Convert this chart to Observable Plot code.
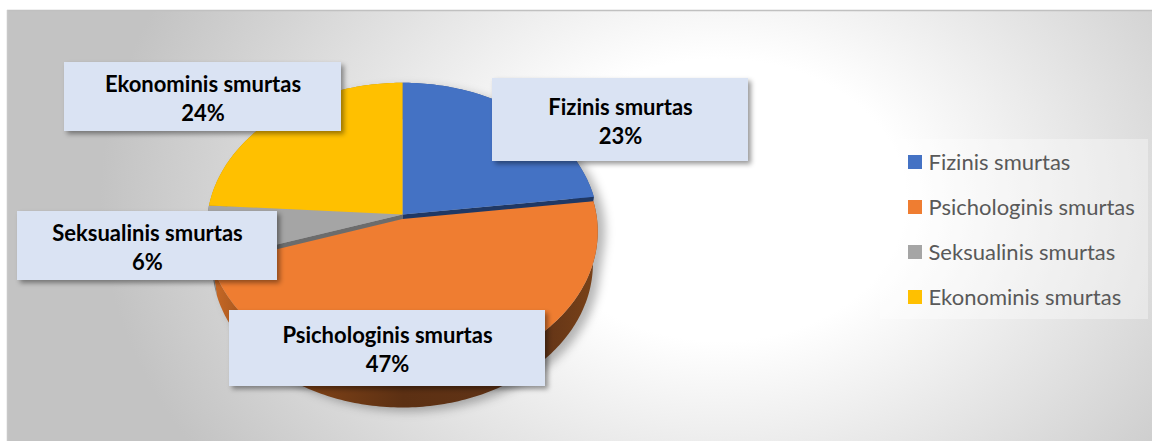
<!DOCTYPE html>
<html><head><meta charset="utf-8">
<script src="https://cdn.jsdelivr.net/npm/d3@7"></script>
<script src="https://cdn.jsdelivr.net/npm/@observablehq/plot@0.6"></script>
<style>body{margin:0;background:#fff;} svg{display:block;}</style>
</head><body><div id="chart"></div>
<script>
// ---- data ----
const categories = ["Fizinis smurtas", "Psichologinis smurtas", "Seksualinis smurtas", "Ekonominis smurtas"];
const values = [23, 47, 6, 24];
const topColors = ["#4472c4", "#ef7d31", "#a5a5a5", "#ffc000"];
const sideColors = ["#2f5597", "url(#orangeSide)", "#7b7b7b", "#bf9000"];
const cutColors = ["#203864", "#b85a1a", "#6c6c6c", "#a07800"];

// ---- layout ----
const W = 1152, H = 441;
const labelBoxes = [
  {x1: 492, x2: 748, y1: 78, y2: 161},
  {x1: 229, x2: 545, y1: 310, y2: 386},
  {x1: 17, x2: 277, y1: 211, y2: 280},
  {x1: 64, x2: 341, y1: 62, y2: 131}
];
const legendLayout = {x: 908, size: 14, y0: 162, step: 45, textX: 928};

// 3D projection of the pie (u right, v toward viewer, w up)
const cam = {cx: 402, cy: 214, D: 7.4, phi: 47.5 * Math.PI / 180, depth: 0.281, drop: 0.03};
cam.f = 195 * cam.D;
const sinP = Math.sin(cam.phi), cosP = Math.cos(cam.phi);
function proj(th, r, w) {
  const u = r * Math.sin(th), v = -r * Math.cos(th);
  const yc = v * sinP - w * cosP;
  const zc = cam.D - v * cosP - w * sinP;
  return [cam.cx + cam.f * u / zc, cam.cy + cam.f * yc / zc];
}

const total = d3.sum(values);
let cum = 0;
const slices = values.map((v, i) => {
  const a0 = 2 * Math.PI * cum / total; cum += v;
  const a1 = 2 * Math.PI * cum / total;
  return {i, a0, a1, wTop: i === 1 ? -cam.drop : 0};
});
function arcPts(a0, a1, w) {
  const n = Math.max(2, Math.ceil((a1 - a0) / (Math.PI / 180)));
  return d3.range(n + 1).map(k => proj(a0 + (a1 - a0) * k / n, 1, w));
}

const walls = [], tops = [], orangeTop = [], cuts = [];
slices.forEach(s => {
  const top = arcPts(s.a0, s.a1, s.wTop);
  const bot = arcPts(s.a0, s.a1, -cam.depth).reverse();
  [...top, ...bot].forEach(([x, y]) => walls.push({x, y, id: "w" + s.i, fill: sideColors[s.i]}));
  const face = [proj(0, 0, s.wTop), ...top];
  const target = s.i === 1 ? orangeTop : tops;
  face.forEach(([x, y]) => target.push({x, y, id: "t" + s.i, fill: topColors[s.i]}));
});
// radial cut faces visible next to the (slightly lower) orange slice
[[0, slices[0].a1], [2, slices[2].a0]].forEach(([i, a]) => {
  [proj(a, 0, 0), proj(a, 1, 0), proj(a, 1, -cam.drop - 0.005), proj(a, 0, -cam.drop - 0.005)]
    .forEach(([x, y]) => cuts.push({x, y, id: "c" + i, fill: cutColors[i]}));
});
const ring = d3.range(0, 360, 2).map(d => d * Math.PI / 180);
const hull = d3.polygonHull([...ring.map(a => proj(a, 1, 0)), ...ring.map(a => proj(a, 1, -cam.depth))])
  .map(([x, y]) => ({x, y}));

const labels = categories.map((c, i) => ({
  ...labelBoxes[i],
  cx: (labelBoxes[i].x1 + labelBoxes[i].x2) / 2,
  cy: (labelBoxes[i].y1 + labelBoxes[i].y2) / 2,
  text: c + "\n" + Math.round(values[i] / total * 100) + "%"
}));
const legend = categories.map((c, i) => ({
  name: c, color: topColors[i],
  y: legendLayout.y0 + i * legendLayout.step
}));

const poly = (data, extra = {}) => Plot.line(data, {x: "x", y: "y", z: "id", fill: "fill", stroke: "none", curve: "linear-closed", ...extra});

const plot = Plot.plot({
  width: W, height: H, margin: 0,
  x: {domain: [0, W], range: [0, W], axis: null},
  y: {domain: [0, H], range: [0, H], axis: null},
  color: {type: "identity"},
  style: {background: "transparent", overflow: "visible"},
  marks: [
    Plot.rect([0], {x1: 7, x2: W, y1: 10, y2: H, fill: "url(#bg)"}),
    Plot.ruleY([10], {x1: 7, x2: W, stroke: "#c0c0c0", strokeWidth: 1.5}),
    Plot.ruleX([7], {y1: 10, y2: H, stroke: "#c8c8c8", strokeWidth: 1.5}),
    Plot.line(hull, {x: "x", y: "y", fill: "#000", fillOpacity: 0.28, stroke: "none", curve: "linear-closed", ariaDescription: "pie-shadow"}),
    poly(walls),
    poly(orangeTop),
    poly(cuts),
    poly(tops),
    Plot.rect(labels, {x1: "x1", x2: "x2", y1: "y1", y2: "y2", fill: "#dae3f3", ariaDescription: "label-box"}),
    Plot.text(labels, {x: "cx", y: "cy", text: "text", fontFamily: "Lato", fontWeight: "bold", fontSize: 22, lineHeight: 1.32, fill: "#000", textAnchor: "middle", lineAnchor: "middle"}),
    Plot.rect([0], {x1: 880, x2: 1148, y1: 139, y2: 319, fill: "#ffffff", fillOpacity: 0.35}),
    Plot.rect(legend, {x1: legendLayout.x, x2: legendLayout.x + legendLayout.size, y1: d => d.y - legendLayout.size / 2, y2: d => d.y + legendLayout.size / 2, fill: "color"}),
    Plot.text(legend, {x: legendLayout.textX, y: "y", text: "name", fontFamily: "Lato", fontSize: 22, fill: "#595959", textAnchor: "start"})
  ]
});

const svg = d3.select(plot);
const defs = svg.insert("defs", ":first-child");
const bg = defs.append("radialGradient").attr("id", "bg").attr("gradientUnits", "userSpaceOnUse")
  .attr("cx", 0).attr("cy", 0).attr("r", 1)
  .attr("gradientTransform", "translate(720,200) scale(620,470)");
bg.append("stop").attr("offset", 0).attr("stop-color", "#ffffff");
bg.append("stop").attr("offset", 0.3).attr("stop-color", "#ffffff");
bg.append("stop").attr("offset", 1).attr("stop-color", "#c3c3c3");
const os = defs.append("linearGradient").attr("id", "orangeSide").attr("gradientUnits", "userSpaceOnUse")
  .attr("x1", 205).attr("y1", 0).attr("x2", 600).attr("y2", 0);
[[0, "#d06d28"], [0.15, "#8e4a18"], [0.5, "#5c3013"], [0.85, "#623417"], [1, "#7c4318"]]
  .forEach(([o, c]) => os.append("stop").attr("offset", o).attr("stop-color", c));
const ps = defs.append("filter").attr("id", "pieShadow").attr("x", "-20%").attr("y", "-20%").attr("width", "140%").attr("height", "140%");
ps.append("feGaussianBlur").attr("stdDeviation", 5);
ps.append("feOffset").attr("dx", 7).attr("dy", 4);
const bs = defs.append("filter").attr("id", "boxShadow").attr("x", "-10%").attr("y", "-10%").attr("width", "130%").attr("height", "140%");
bs.append("feDropShadow").attr("dx", 3).attr("dy", 3).attr("stdDeviation", 2.5).attr("flood-color", "#000").attr("flood-opacity", 0.4);
svg.selectAll('[aria-description="pie-shadow"]').attr("filter", "url(#pieShadow)");
svg.selectAll('[aria-description="label-box"]').attr("filter", "url(#boxShadow)");

document.getElementById("chart").appendChild(plot);
</script>
</body></html>
